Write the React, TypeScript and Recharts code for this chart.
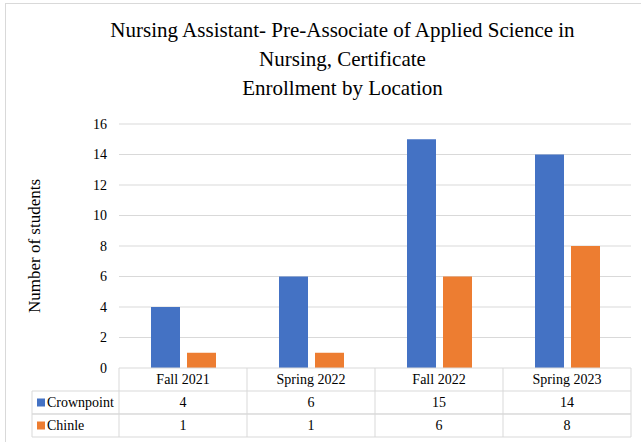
import React from 'react';
import { BarChart, Bar, XAxis, YAxis, CartesianGrid, Label } from 'recharts';

// Enrollment per term and campus
const terms = ['Fall 2021', 'Spring 2022', 'Fall 2022', 'Spring 2023'];
const crownpoint = [4, 6, 15, 14];
const chinle = [1, 1, 6, 8];
const yTicks = [0, 2, 4, 6, 8, 10, 12, 14, 16];
const titleLines = [
  'Nursing Assistant- Pre-Associate of Applied Science in',
  'Nursing, Certificate',
  'Enrollment by Location',
];

const data = terms.map((term, i) => ({ term, crownpoint: crownpoint[i], chinle: chinle[i] }));

const W = 641;
const H = 442;
const FONT = 'Liberation Serif, DejaVu Serif, serif';
const BLUE = '#4472C4';
const ORANGE = '#ED7D31';
const GRID = '#d9d9d9';
const Y_AXIS_W = 119;
const MARGIN = { top: 124, right: 10, bottom: 5, left: 0 };
const PLOT_W = W - MARGIN.left - MARGIN.right - Y_AXIS_W;
const ROW_H = 23;
const LEGEND_LEFT = 32;

// the x axis is drawn as a data table: header cell + one row per series
const TableTick = (props: any) => {
  const { x, y, index } = props;
  const band = PLOT_W / terms.length;
  const left = x - band / 2;
  const right = x + band / 2;
  const rows = [
    { name: 'Crownpoint', color: BLUE, values: crownpoint },
    { name: 'Chinle', color: ORANGE, values: chinle },
  ];
  const textStyle = { fontFamily: FONT, fontSize: 14 };
  const textProps = { fill: '#000', textAnchor: 'middle' as const, dominantBaseline: 'central' as const, style: textStyle };
  return (
    <g>
      <line x1={left} x2={right} y1={y} y2={y} stroke={GRID} />
      <line x1={right} x2={right} y1={y} y2={y + ROW_H * 3} stroke={GRID} />
      {index === 0 && <line x1={left} x2={left} y1={y} y2={y + ROW_H * 3} stroke={GRID} />}
      <text x={x} y={y + ROW_H / 2} {...textProps}>{terms[index]}</text>
      {rows.map((r, ri) => {
        const top = y + ROW_H * (ri + 1);
        return (
          <g key={r.name}>
            <line x1={index === 0 ? LEGEND_LEFT : left} x2={right} y1={top} y2={top} stroke={GRID} />
            <line x1={index === 0 ? LEGEND_LEFT : left} x2={right} y1={top + ROW_H} y2={top + ROW_H} stroke={GRID} />
            <text x={x} y={top + ROW_H / 2} {...textProps}>{r.values[index]}</text>
            {index === 0 && (
              <g>
                <line x1={LEGEND_LEFT} x2={LEGEND_LEFT} y1={top} y2={top + ROW_H} stroke={GRID} />
                <rect x={LEGEND_LEFT + 5} y={top + ROW_H / 2 - 4} width={8} height={8} fill={r.color} />
                <text x={LEGEND_LEFT + 15} y={top + ROW_H / 2} {...textProps} textAnchor="start">{r.name}</text>
              </g>
            )}
          </g>
        );
      })}
    </g>
  );
};

export default function App() {
  return (
    <div style={{ position: 'absolute', left: 0, top: 0, width: W, height: H, overflow: 'hidden', background: '#fff', fontFamily: FONT }}>
      <div style={{ position: 'absolute', left: 5, top: 3, width: W, height: H, border: `1px solid ${GRID}` }} />
      <div style={{ position: 'absolute', left: 0, top: 16, width: 685, textAlign: 'center', fontFamily: FONT, fontSize: 21, lineHeight: '29px', color: '#000' }}>
        {titleLines.map((t) => (
          <div key={t}>{t}</div>
        ))}
      </div>
      <BarChart width={W} height={H} data={data} margin={MARGIN} barSize={29} barGap={7} style={{ fontFamily: FONT }}>
        <CartesianGrid vertical={false} stroke={GRID} horizontalValues={yTicks.slice(1)} />
        <XAxis
          dataKey="term"
          height={ROW_H * 3}
          axisLine={false}
          tickLine={false}
          tickSize={0}
          tickMargin={0}
          interval={0}
          tick={<TableTick />}
        />
        <YAxis
          width={Y_AXIS_W}
          domain={[0, 16]}
          ticks={yTicks}
          axisLine={false}
          tickLine={false}
          tickSize={0}
          tickMargin={12}
          tick={{ fontSize: 14, fill: '#000', style: { fontFamily: FONT } }}
        >
          <Label
            content={({ viewBox }: any) => {
              const cy = viewBox.y + viewBox.height / 2;
              return (
                <text x={34} y={cy} transform={`rotate(-90 34 ${cy})`} textAnchor="middle" dominantBaseline="central" style={{ fontFamily: FONT, fontSize: 17 }} fill="#000">
                  Number of students
                </text>
              );
            }}
          />
        </YAxis>
        <Bar dataKey="crownpoint" fill={BLUE} isAnimationActive={false} />
        <Bar dataKey="chinle" fill={ORANGE} isAnimationActive={false} />
      </BarChart>
    </div>
  );
}
